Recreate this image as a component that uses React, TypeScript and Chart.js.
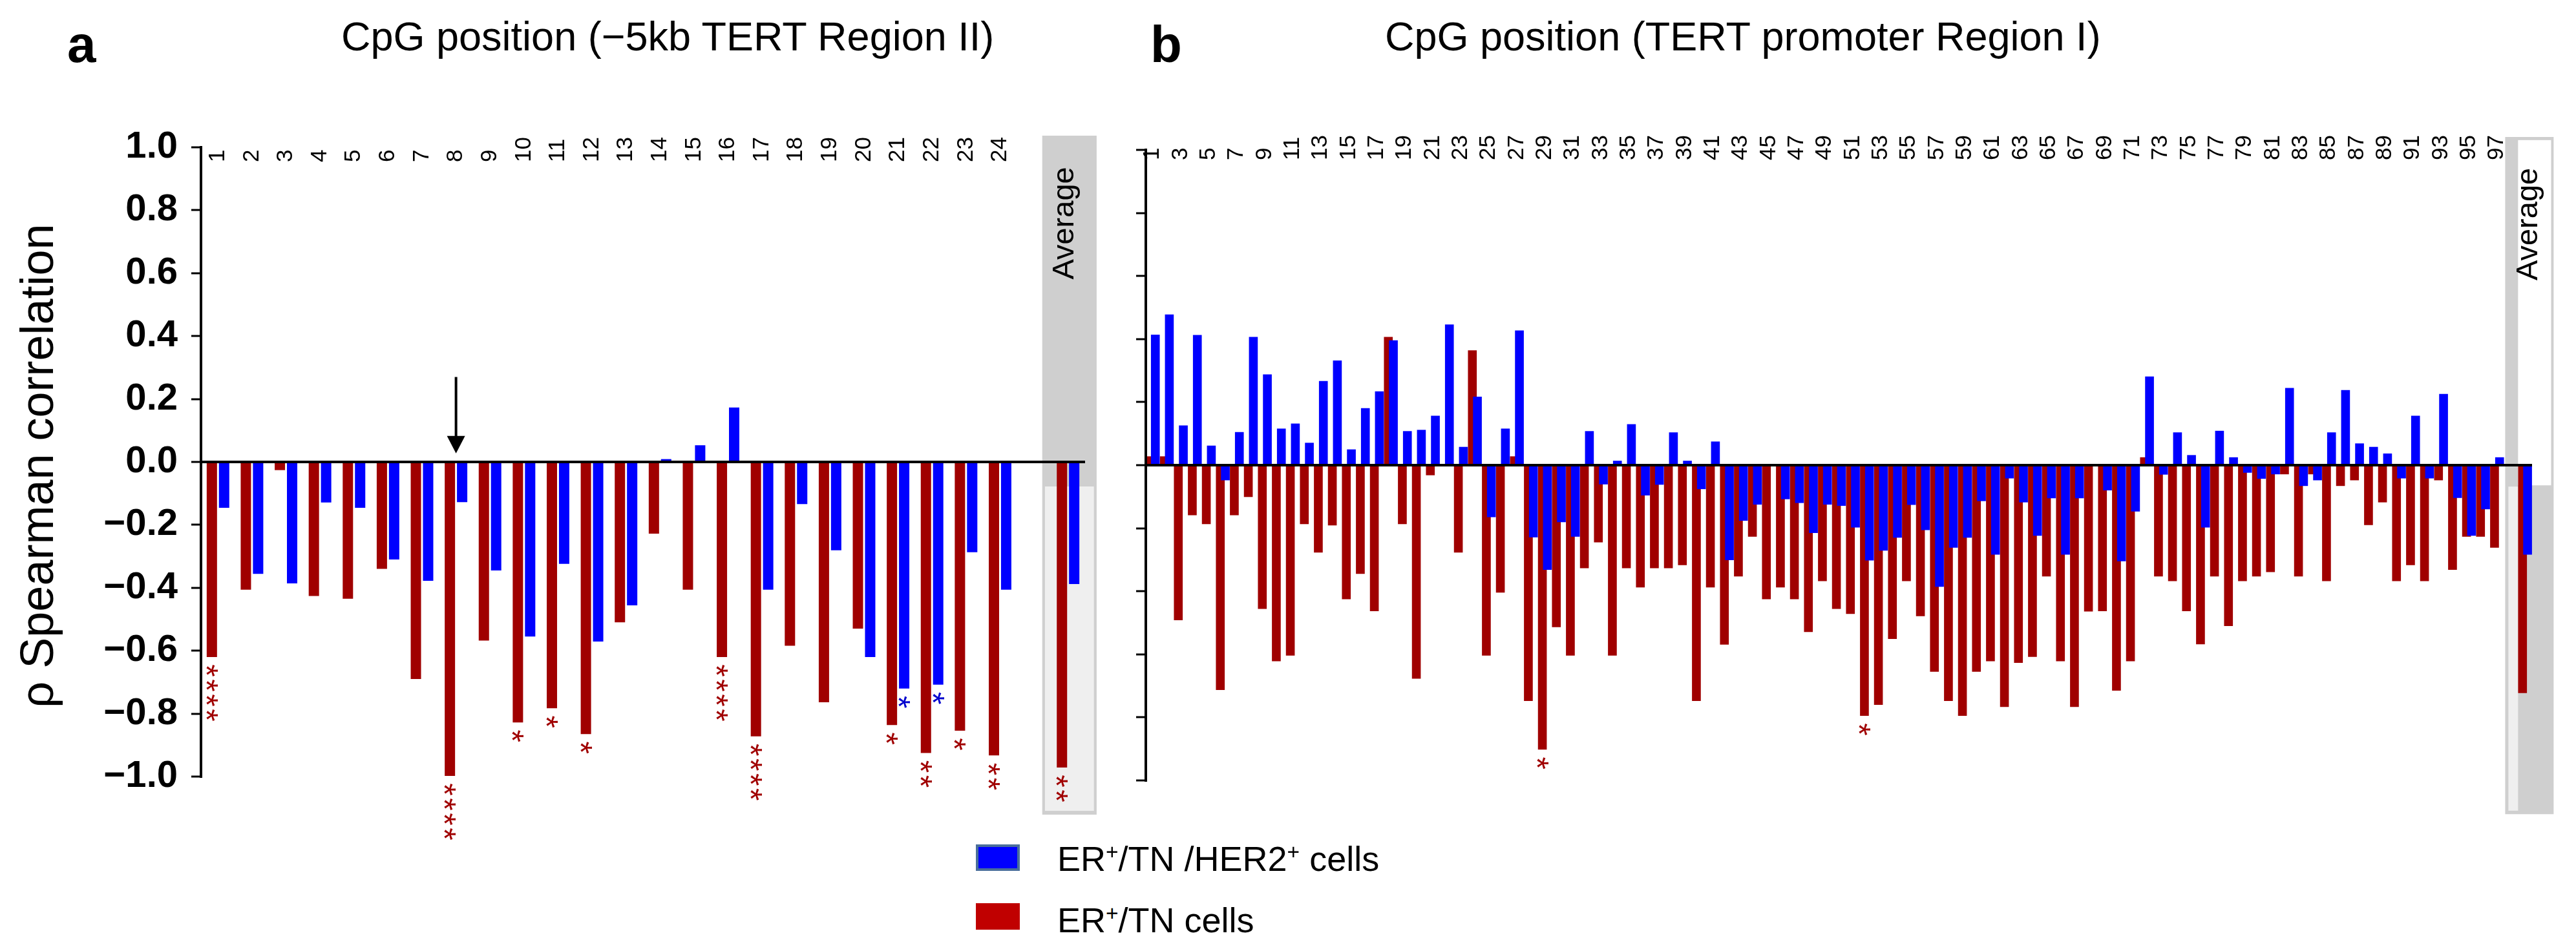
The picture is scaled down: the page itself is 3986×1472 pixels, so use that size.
import React, { useEffect, useRef } from 'react';
import { Chart, registerables } from 'chart.js';

Chart.register(...registerables);
Chart.defaults.font.family = '"Liberation Sans", Arial, sans-serif';

// ---------------- Panel a: CpG positions of the −5kb TERT Region II ----------------
const REGION_II_POSITIONS = ['1', '2', '3', '4', '5', '6', '7', '8', '9', '10', '11', '12', '13', '14', '15', '16', '17', '18', '19', '20', '21', '22', '23', '24'];
const REGION_II_RED = [-0.62, -0.406, -0.026, -0.426, -0.435, -0.34, -0.69, -0.998, -0.568, -0.828, -0.783, -0.865, -0.51, -0.228, -0.406, -0.62, -0.872, -0.584, -0.764, -0.53, -0.836, -0.925, -0.854, -0.933];
const REGION_II_BLUE = [-0.146, -0.356, -0.386, -0.129, -0.146, -0.31, -0.378, -0.128, -0.345, -0.555, -0.324, -0.571, -0.456, 0.009, 0.053, 0.173, -0.406, -0.134, -0.281, -0.62, -0.72, -0.708, -0.287, -0.406];
const REGION_II_RED_AVERAGE = -0.971;
const REGION_II_BLUE_AVERAGE = -0.388;
const REGION_II_RED_STARS = [4, 0, 0, 0, 0, 0, 0, 4, 0, 1, 1, 1, 0, 0, 0, 4, 4, 0, 0, 0, 1, 2, 1, 2];
const REGION_II_BLUE_STARS = [0, 0, 0, 0, 0, 0, 0, 0, 0, 0, 0, 0, 0, 0, 0, 0, 0, 0, 0, 0, 1, 1, 0, 0];
const REGION_II_RED_AVERAGE_STARS = 2;
const REGION_II_BLUE_AVERAGE_STARS = 0;
const REGION_II_ARROW_POSITION = '8';

// ---------------- Panel b: CpG positions of the TERT promoter Region I ----------------
const REGION_I_POSITIONS = [
  '1', '2', '3', '4', '5', '6', '7', '8', '9', '10', '11', '12', '13', '14', '15', '16', '17', '18', '19', '20',
  '21', '22', '23', '24', '25', '26', '27', '28', '29', '30', '31', '32', '33', '34', '35', '36', '37', '38', '39', '40',
  '41', '42', '43', '44', '45', '46', '47', '48', '49', '50', '51', '52', '53', '54', '55', '56', '57', '58', '59', '60',
  '61', '62', '63', '64', '65', '66', '67', '68', '69', '70', '71', '72', '73', '74', '75', '76', '77', '78', '79', '80',
  '81', '82', '83', '84', '85', '86', '87', '88', '89', '90', '91', '92', '93', '94', '95', '96', '97'];
const REGION_I_TICK_LABELS = [
  '1', '3', '5', '7', '9', '11', '13', '15', '17', '19', '21', '23', '25', '27', '29', '31', '33', '35', '37', '39',
  '41', '43', '45', '47', '49', '51', '53', '55', '57', '59', '61', '63', '65', '67', '69', '71', '73', '75', '77', '79',
  '81', '83', '85', '87', '89', '91', '93', '95', '97'];
const REGION_I_RED = [
  0.028, 0.028, -0.492, -0.159, -0.187, -0.713, -0.159, -0.101, -0.456, -0.622,
  -0.604, -0.187, -0.277, -0.191, -0.425, -0.345, -0.463, 0.407, -0.187, -0.677,
  -0.032, 0, -0.277, 0.364, -0.604, -0.404, 0.028, -0.748, -0.902, -0.514,
  -0.604, -0.327, -0.245, -0.604, -0.327, -0.388, -0.327, -0.327, -0.317, -0.748,
  -0.388, -0.569, -0.353, -0.227, -0.425, -0.388, -0.425, -0.529, -0.368, -0.456,
  -0.472, -0.795, -0.76, -0.551, -0.368, -0.479, -0.655, -0.748, -0.795, -0.655,
  -0.622, -0.767, -0.627, -0.608, -0.353, -0.622, -0.767, -0.464, -0.463, -0.715,
  -0.622, 0.025, -0.353, -0.368, -0.463, -0.568, -0.353, -0.51, -0.368, -0.353,
  -0.339, -0.029, -0.353, -0.029, -0.368, -0.066, -0.048, -0.19, -0.118, -0.368,
  -0.317, -0.368, -0.048, -0.332, -0.227, -0.227, -0.262];
const REGION_I_BLUE = [
  0.414, 0.478, 0.126, 0.413, 0.062, -0.048, 0.105, 0.407, 0.288, 0.116,
  0.132, 0.071, 0.267, 0.332, 0.05, 0.181, 0.234, 0.396, 0.108, 0.112,
  0.157, 0.446, 0.058, 0.217, -0.165, 0.116, 0.427, -0.229, -0.332, -0.181,
  -0.227, 0.108, -0.061, 0.014, 0.13, -0.096, -0.062, 0.104, 0.014, -0.076,
  0.075, -0.301, -0.176, -0.125, 0, -0.108, -0.12, -0.215, -0.125, -0.129,
  -0.198, -0.302, -0.271, -0.23, -0.126, -0.206, -0.386, -0.262, -0.23, -0.114,
  -0.284, -0.042, -0.118, -0.224, -0.105, -0.284, -0.105, 0, -0.08, -0.305,
  -0.147, 0.281, -0.03, 0.104, 0.032, -0.198, 0.109, 0.025, -0.024, -0.043,
  -0.029, 0.245, -0.066, -0.048, 0.104, 0.238, 0.069, 0.058, 0.037, -0.042,
  0.157, -0.042, 0.226, -0.104, -0.224, -0.14, 0.025];
const REGION_I_RED_AVERAGE = -0.723;
const REGION_I_BLUE_AVERAGE = -0.284;
const REGION_I_RED_STAR_POSITIONS = ['29', '52'];
const REGION_I_BLUE_STAR_POSITIONS: string[] = [];

// ---------------- styling ----------------
const RED = '#a00000';
const BLUE = '#0000ff';
const BOX_GRAY = '#cfcfcf';
const BOX_LIGHT = '#efefef';
const FONT = '"Liberation Sans", Arial, sans-serif';

const fmtY = (v: number) => {
  const r = Math.round(v * 10) / 10;
  if (r === 0) return '0.0';
  return r < 0 ? '\u2212' + (-r).toFixed(1) : r.toFixed(1);
};

type Rect = { dx0: number; dx1: number; y0: number; y1: number; color: string };

type PanelSpec = {
  positions: string[];
  tickLabels: string[];
  red: number[];
  blue: number[];
  redAvg: number;
  blueAvg: number;
  redStars: number[];
  blueStars: number[];
  redAvgStars: number;
  blueAvgStars: number;
  barFraction: number;
  pairOffset: number;
  blueOnTop: boolean;
  yAxisWidth: number;
  showYLabels: boolean;
  padding: { left: number; right: number; top: number; bottom: number };
  labelDrop: number;
  rects: Rect[];
  avgTextDx: number;
  avgTextY: number;
  arrow?: { position: string; fromY: number; toY: number };
};

function buildConfig(spec: PanelSpec): any {
  const n = spec.positions.length;
  const avgSlot = n + 2;
  const maxSlot = n + 2;
  const tickSlots = spec.tickLabels.map((l) => spec.positions.indexOf(l) + 1);
  const allSlots = [...spec.positions.map((_, i) => i + 1), avgSlot];

  const redPts = spec.red.map((v, i) => ({ x: i + 1 - spec.pairOffset, y: v }));
  redPts.push({ x: avgSlot - spec.pairOffset, y: spec.redAvg });
  const bluePts = spec.blue.map((v, i) => ({ x: i + 1 + spec.pairOffset, y: v }));
  bluePts.push({ x: avgSlot + spec.pairOffset, y: spec.blueAvg });

  const redDs = {
    label: 'ER+/TN cells', data: redPts, backgroundColor: RED, borderWidth: 0,
    xAxisID: 'x', grouped: false, categoryPercentage: 1, barPercentage: spec.barFraction,
  };
  const blueDs = {
    label: 'ER+/TN /HER2+ cells', data: bluePts, backgroundColor: BLUE, borderWidth: 0,
    xAxisID: 'x2', grouped: false, categoryPercentage: 1, barPercentage: spec.barFraction,
  };
  const datasets = spec.blueOnTop ? [blueDs, redDs] : [redDs, blueDs];
  const redStarList = [...spec.redStars, spec.redAvgStars];
  const blueStarList = [...spec.blueStars, spec.blueAvgStars];
  const stars = spec.blueOnTop ? [blueStarList, redStarList] : [redStarList, blueStarList];
  const starColors = spec.blueOnTop ? ['#0000cd', RED] : [RED, '#0000cd'];

  const decor = {
    id: 'decor',
    beforeDatasetsDraw(chart: any) {
      const { ctx, chartArea } = chart;
      const xs = chart.scales.x;
      const ys = chart.scales.y;
      ctx.save();
      // Average background box
      for (const r of spec.rects) {
        const x0 = xs.getPixelForValue(avgSlot + r.dx0);
        const x1 = xs.getPixelForValue(avgSlot + r.dx1);
        const y0 = ys.getPixelForValue(r.y0);
        const y1 = ys.getPixelForValue(r.y1);
        ctx.fillStyle = r.color;
        ctx.fillRect(x0, y0, x1 - x0, y1 - y0);
      }
      // CpG position labels from the x axis ticks, rotated, inside the top of the plot
      ctx.fillStyle = '#000';
      ctx.font = `35px ${FONT}`;
      ctx.textAlign = 'left';
      ctx.textBaseline = 'middle';
      for (const t of xs.ticks) {
        const label = spec.positions[Math.round(t.value) - 1];
        if (!label) continue;
        ctx.save();
        ctx.translate(xs.getPixelForValue(t.value), chartArea.top + spec.labelDrop);
        ctx.rotate(-Math.PI / 2);
        ctx.fillText(label, 0, 0);
        ctx.restore();
      }
      // "Average" caption
      ctx.translate(xs.getPixelForValue(avgSlot + spec.avgTextDx), ys.getPixelForValue(spec.avgTextY));
      ctx.rotate(-Math.PI / 2);
      ctx.font = `47px ${FONT}`;
      ctx.textBaseline = 'alphabetic';
      ctx.fillText('Average', 0, 0);
      ctx.restore();
    },
    afterDatasetsDraw(chart: any) {
      const { ctx } = chart;
      ctx.save();
      ctx.font = `50px ${FONT}`;
      const m = ctx.measureText('*');
      const mid = (m.actualBoundingBoxAscent - m.actualBoundingBoxDescent) / 2;
      chart.data.datasets.forEach((_: any, di: number) => {
        const meta = chart.getDatasetMeta(di);
        const list = stars[di];
        ctx.fillStyle = starColors[di];
        meta.data.forEach((el: any, i: number) => {
          const count = list[i] || 0;
          for (let k = 0; k < count; k++) {
            ctx.save();
            ctx.translate(el.x, el.y + 21 + k * 23);
            ctx.rotate(Math.PI / 2);
            ctx.textAlign = 'center';
            ctx.textBaseline = 'alphabetic';
            ctx.fillText('*', 0, mid);
            ctx.restore();
          }
        });
      });
      if (spec.arrow) {
        const xs = chart.scales.x;
        const ys = chart.scales.y;
        const x = xs.getPixelForValue(spec.positions.indexOf(spec.arrow.position) + 1);
        const yTop = ys.getPixelForValue(spec.arrow.fromY);
        const yTip = ys.getPixelForValue(spec.arrow.toY);
        ctx.strokeStyle = '#000';
        ctx.fillStyle = '#000';
        ctx.lineWidth = 4;
        ctx.beginPath();
        ctx.moveTo(x, yTop);
        ctx.lineTo(x, yTip - 22);
        ctx.stroke();
        ctx.beginPath();
        ctx.moveTo(x - 14, yTip - 27);
        ctx.lineTo(x + 14, yTip - 27);
        ctx.lineTo(x, yTip);
        ctx.closePath();
        ctx.fill();
      }
      ctx.restore();
    },
  };

  return {
    type: 'bar',
    data: { datasets },
    plugins: [decor],
    options: {
      animation: false,
      responsive: false,
      devicePixelRatio: 1,
      events: [],
      layout: { padding: spec.padding },
      plugins: { legend: { display: false }, tooltip: { enabled: false }, title: { display: false } },
      scales: {
        x: {
          type: 'linear',
          position: 'top',
          min: 0.5,
          max: maxSlot + 0.5,
          offset: false,
          grid: { display: false, drawTicks: false },
          border: { display: false },
          afterBuildTicks: (s: any) => { s.ticks = tickSlots.map((v) => ({ value: v })); },
          afterFit: (s: any) => { s.height = 0; },
          ticks: { display: false, autoSkip: false },
        },
        x2: {
          type: 'linear',
          display: false,
          min: 0.5,
          max: maxSlot + 0.5,
          offset: false,
          afterBuildTicks: (s: any) => { s.ticks = allSlots.map((v) => ({ value: v })); },
        },
        y: {
          type: 'linear',
          position: 'left',
          min: -1,
          max: 1,
          afterFit: (s: any) => { s.width = spec.yAxisWidth; },
          ticks: {
            stepSize: 0.2,
            display: spec.showYLabels,
            padding: 21,
            color: '#000',
            font: { size: 58, family: FONT, weight: 'bold' },
            callback: (v: number) => fmtY(v),
          },
          grid: {
            z: 1,
            color: (c: any) => (c.tick && Math.abs(c.tick.value) < 1e-9 ? '#000' : 'rgba(0,0,0,0)'),
            lineWidth: 4,
            drawTicks: true,
            tickLength: 15,
            tickColor: '#000',
            tickWidth: 3,
          },
          border: { display: true, color: '#000', width: 4, z: 1 },
        },
      },
    },
  };
}

const PANEL_A: PanelSpec = {
  positions: REGION_II_POSITIONS,
  tickLabels: REGION_II_POSITIONS,
  red: REGION_II_RED,
  blue: REGION_II_BLUE,
  redAvg: REGION_II_RED_AVERAGE,
  blueAvg: REGION_II_BLUE_AVERAGE,
  redStars: REGION_II_RED_STARS,
  blueStars: REGION_II_BLUE_STARS,
  redAvgStars: REGION_II_RED_AVERAGE_STARS,
  blueAvgStars: REGION_II_BLUE_AVERAGE_STARS,
  barFraction: 0.304,
  pairOffset: 0.18,
  blueOnTop: false,
  yAxisWidth: 311,
  showYLabels: true,
  padding: { left: 0, right: 61, top: 228, bottom: 118 },
  labelDrop: 23,
  rects: [
    { dx0: -0.76, dx1: 0.84, y0: 1.037, y1: -1.121, color: BOX_GRAY },
    { dx0: -0.68, dx1: 0.76, y0: -0.078, y1: -1.109, color: BOX_LIGHT },
  ],
  avgTextDx: 0.15,
  avgTextY: 0.58,
  arrow: { position: REGION_II_ARROW_POSITION, fromY: 0.27, toY: 0.027 },
};

const PANEL_B: PanelSpec = {
  positions: REGION_I_POSITIONS,
  tickLabels: REGION_I_TICK_LABELS,
  red: REGION_I_RED,
  blue: REGION_I_BLUE,
  redAvg: REGION_I_RED_AVERAGE,
  blueAvg: REGION_I_BLUE_AVERAGE,
  redStars: REGION_I_POSITIONS.map((p) => (REGION_I_RED_STAR_POSITIONS.includes(p) ? 1 : 0)),
  blueStars: REGION_I_POSITIONS.map((p) => (REGION_I_BLUE_STAR_POSITIONS.includes(p) ? 1 : 0)),
  redAvgStars: 0,
  blueAvgStars: 0,
  barFraction: 0.63,
  pairOffset: 0.18,
  blueOnTop: true,
  yAxisWidth: 33,
  showYLabels: false,
  padding: { left: 0, right: 68, top: 232, bottom: 112 },
  labelDrop: 16,
  rects: [
    { dx0: -1.42, dx1: 2.04, y0: 1.041, y1: -1.107, color: BOX_GRAY },
    { dx0: -0.5, dx1: 1.86, y0: 1.031, y1: -0.064, color: '#ffffff' },
    { dx0: -1.19, dx1: -0.5, y0: -0.068, y1: -1.096, color: BOX_LIGHT },
  ],
  avgTextDx: 0.89,
  avgTextY: 0.586,
};

const abs = (left: number, top: number, extra: React.CSSProperties = {}): React.CSSProperties => ({
  position: 'absolute', left, top, whiteSpace: 'nowrap', fontFamily: FONT, color: '#000', ...extra,
});

const supStyle: React.CSSProperties = {
  fontSize: '0.62em', verticalAlign: 'baseline', position: 'relative', top: '-0.55em', lineHeight: 0,
};

export default function App() {
  const refA = useRef<HTMLCanvasElement>(null);
  const refB = useRef<HTMLCanvasElement>(null);

  useEffect(() => {
    const ca = new Chart(refA.current as HTMLCanvasElement, buildConfig(PANEL_A));
    const cb = new Chart(refB.current as HTMLCanvasElement, buildConfig(PANEL_B));
    return () => {
      ca.destroy();
      cb.destroy();
    };
  }, []);

  return (
    <div style={{ position: 'fixed', left: 0, top: 0, width: 3986, height: 1472, background: '#fff', overflow: 'hidden' }}>
      <canvas ref={refA} width={1740} height={1320} style={{ position: 'absolute', left: 0, top: 0, width: 1740, height: 1320 }} />
      <canvas ref={refB} width={2246} height={1320} style={{ position: 'absolute', left: 1740, top: 0, width: 2246, height: 1320 }} />

      <div style={abs(104, 29, { fontSize: 80, lineHeight: '80px', fontWeight: 'bold' })}>a</div>
      <div style={abs(1780, 29, { fontSize: 80, lineHeight: '80px', fontWeight: 'bold' })}>b</div>
      <div style={abs(528, 25, { fontSize: 63, lineHeight: '63px' })}>CpG position (−5kb TERT Region II)</div>
      <div style={abs(2143, 25, { fontSize: 63, lineHeight: '63px' })}>CpG position (TERT promoter Region I)</div>

      <div style={abs(57 - 450, 721 - 36, { width: 900, height: 72, fontSize: 72, lineHeight: '72px', textAlign: 'center', transform: 'rotate(-90deg)', transformOrigin: '50% 50%' })}>
        ρ Spearman correlation
      </div>

      <div style={{ position: 'absolute', left: 1510, top: 1307, width: 68, height: 41, boxSizing: 'border-box', background: BLUE, border: '4px solid #4a6f9b' }} />
      <div style={{ position: 'absolute', left: 1510, top: 1398, width: 68, height: 41, background: '#c00000' }} />
      <div style={abs(1636, 1302, { fontSize: 54, lineHeight: '54px' })}>
        ER<span style={supStyle}>+</span>/TN /HER2<span style={supStyle}>+</span> cells
      </div>
      <div style={abs(1636, 1397, { fontSize: 54, lineHeight: '54px' })}>
        ER<span style={supStyle}>+</span>/TN cells
      </div>
    </div>
  );
}
